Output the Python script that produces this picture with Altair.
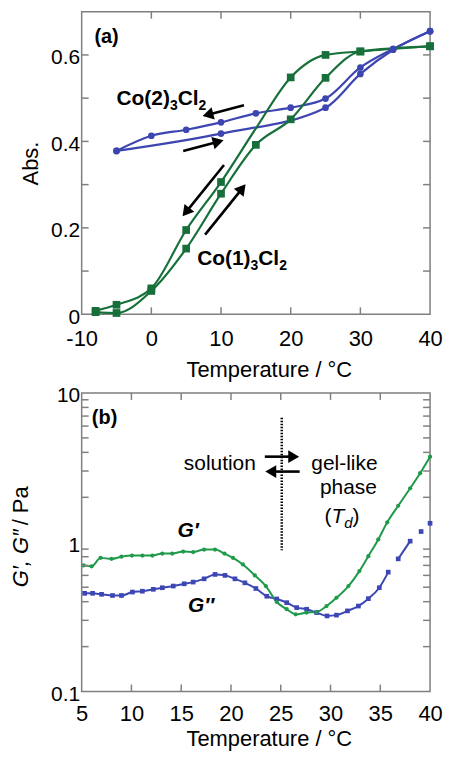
import math
import altair as alt
import pandas as pd

FONT = "Liberation Sans"

# ---------------- panel (a) data ----------------
CO1_T = [-8, -5, 0, 5, 10, 15, 20, 25, 30, 40]
CO1_COOL_A = [0.008, 0.022, 0.060, 0.195, 0.306, 0.430, 0.548, 0.600, 0.608, 0.620]
CO1_COOL_MARK = [1, 1, 1, 1, 1, 0, 1, 1, 1, 1]
CO1_HEAT_A = [0.005, 0.003, 0.054, 0.152, 0.279, 0.392, 0.451, 0.547, 0.608, 0.620]
CO1_HEAT_MARK = [1, 1, 1, 1, 1, 1, 1, 1, 1, 1]

CO2_COOL_T = [-5, 0, 5, 10, 15, 20, 25, 30, 34.7, 40]
CO2_COOL_A = [0.378, 0.413, 0.427, 0.444, 0.465, 0.478, 0.499, 0.571, 0.614, 0.655]
CO2_HEAT_T = [-5, 10, 25, 30, 34.7, 40]
CO2_HEAT_A = [0.378, 0.418, 0.478, 0.556, 0.612, 0.655]

# ---------------- panel (b) data ----------------
GP_T = [5.2, 6.0, 6.9, 8.0, 9.0, 10.05, 11.1, 12.1, 13.1, 14.1, 15.2, 16.2, 17.3, 18.4,
        19.35, 20.2, 21.2, 22.4, 23.5, 24.6, 25.6, 26.5, 27.6, 28.6, 29.6, 30.6, 31.8,
        32.9, 33.8, 34.8, 35.7, 36.8, 38.0, 39.0, 40.0]
GP_V = [0.70, 0.69, 0.786, 0.774, 0.80, 0.815, 0.815, 0.815, 0.84, 0.84, 0.866, 0.86,
        0.894, 0.894, 0.84, 0.786, 0.71, 0.60, 0.509, 0.398, 0.356, 0.329, 0.338, 0.341,
        0.374, 0.425, 0.509, 0.641, 0.807, 1.045, 1.36, 1.756, 2.30, 2.90, 3.74]
GPP_T = [5.3, 6.1, 7.0, 8.1, 9.0, 10.1, 11.1, 12.2, 13.1, 14.2, 15.3, 16.2, 17.3, 18.4,
         19.4, 20.4, 21.4, 22.5, 23.6, 24.6, 25.6, 26.6, 27.6, 28.6, 29.65, 30.6, 31.7,
         32.8, 33.8, 34.9, 35.8, 36.8, 38.0, 39.1, 40.0]
GPP_V = [0.455, 0.455, 0.448, 0.44, 0.44, 0.464, 0.47, 0.484, 0.496, 0.509, 0.527, 0.541,
         0.569, 0.609, 0.60, 0.569, 0.535, 0.49, 0.435, 0.417, 0.394, 0.365, 0.356, 0.338,
         0.321, 0.325, 0.347, 0.374, 0.419, 0.496, 0.631, 0.774, 1.017, 1.18, 1.34]
GPP_SEG = [0] * 31 + [1, 1, 2, 3]

TOP_Y_TICKS = [0.1, 0.2, 0.3, 0.4, 0.5, 0.6]
TOP_X_TICKS = [0, 10, 20, 30]
TOP_Y_LABELS = [0, 0.2, 0.4, 0.6]
TOP_X_LABELS = [-10, 0, 10, 20, 30, 40]
BOT_Y_TICKS = [0.2, 0.3, 0.4, 0.5, 0.6, 0.7, 0.8, 0.9, 2, 3, 4, 5, 6, 7, 8, 9]
BOT_X_TICKS = [10, 15, 20, 25, 30, 35]
BOT_Y_LABELS = [0.1, 1, 10]
BOT_X_LABELS = [5, 10, 15, 20, 25, 30, 35, 40]

GREEN_T = "#17703a"
BLUE_T = "#3d46b0"
GREEN_B = "#1f9a4b"
BLUE_B = "#3c46b4"
TICK = "#808080"

W = 350
H1 = 304
H2 = 300
ONE = pd.DataFrame({"z": [0]})


def frame(T, V, series, mark=None, seg=None):
    n = len(T)
    mark = mark if mark is not None else [1] * n
    seg = seg if seg is not None else [0] * n
    return pd.DataFrame({"T": T, "V": V, "series": series, "mark": mark,
                         "key": [f"{series}-{s}" for s in seg]})


def x_axis(values, lp, tp):
    return alt.Axis(values=values, ticks=False, domain=False, grid=False,
                    labelExpr="'' + datum.value", labelFontSize=22, labelPadding=lp,
                    labelFont=FONT, labelColor="black", labelFlush=False,
                    title="Temperature / °C", titleFont=FONT, titleFontSize=22,
                    titleFontWeight="normal", titleColor="black", titlePadding=tp,
                    titleX=188)


def y_axis(values, title):
    kw = dict(values=values, ticks=False, domain=False, grid=False,
              labelExpr="'' + datum.value", labelFontSize=21, labelPadding=2,
              labelFont=FONT, labelColor="black", labelFlush=False, labelOffset=3,
              labelOverlap=False)
    if title:
        kw.update(title=title, titleFont=FONT, titleFontSize=22, titleFontWeight="normal",
                  titleColor="black", titlePadding=8)
    else:
        kw.update(title=None)
    return alt.Axis(**kw)


def text_at(txt, x, y, size=21, weight="normal", style="normal", align="center",
            baseline="middle", angle=0):
    return alt.Chart(ONE).mark_text(
        text=txt, fontSize=size, fontWeight=weight, fontStyle=style, align=align,
        baseline=baseline, angle=angle, font=FONT, color="black"
    ).encode(x=alt.value(x), y=alt.value(y))


def arrow(x1, y1, x2, y2, width=2.6, size=160):
    dx, dy = x2 - x1, y2 - y1
    L = math.hypot(dx, dy)
    ux, uy = dx / L, dy / L
    ang = math.degrees(math.atan2(dx, -dy)) % 360
    shaft = alt.Chart(ONE).mark_rule(color="black", strokeWidth=width).encode(
        x=alt.value(x1), y=alt.value(y1),
        x2=alt.value(x2 - ux * 7), y2=alt.value(y2 - uy * 7))
    head = alt.Chart(ONE).mark_point(shape="triangle-up", filled=True, size=size,
                                     color="black", opacity=1, angle=ang).encode(
        x=alt.value(x2 - ux * 6), y=alt.value(y2 - uy * 6))
    return [shaft, head]


def tick_layers(X, Y, xticks, yticks, h):
    out = []
    ydf = pd.DataFrame({"V": yticks})
    xdf = pd.DataFrame({"T": xticks})
    out.append(alt.Chart(ydf).mark_rule(color=TICK, strokeWidth=1.5).encode(
        y=Y, x=alt.value(0), x2=alt.value(7)))
    out.append(alt.Chart(ydf).mark_rule(color=TICK, strokeWidth=1.5).encode(
        y=Y, x=alt.value(W - 7), x2=alt.value(W)))
    out.append(alt.Chart(xdf).mark_rule(color=TICK, strokeWidth=1.5).encode(
        x=X, y=alt.value(h - 7), y2=alt.value(h)))
    out.append(alt.Chart(xdf).mark_rule(color=TICK, strokeWidth=1.5).encode(
        x=X, y=alt.value(0), y2=alt.value(7)))
    return out


def composed(pieces, x0, y0):
    """pieces: (text, size, dy, weight, style, width_em)"""
    out = []
    x = x0
    for txt, size, dy, weight, style, wem in pieces:
        out.append(text_at(txt, x, y0 + dy, size=size, weight=weight, style=style,
                           align="left", baseline="alphabetic"))
        x += wem * size
    return out


# ---------------- panel (a) ----------------
XA = alt.X("T:Q", scale=alt.Scale(domain=[-10, 40], nice=False, zero=False),
           axis=x_axis(TOP_X_LABELS, 14, 10))
YA = alt.Y("V:Q", scale=alt.Scale(domain=[0, 0.7], nice=False, zero=False),
           axis=y_axis(TOP_Y_LABELS, "Abs."))

top_df = pd.concat([
    frame(CO2_COOL_T, CO2_COOL_A, "co2c"),
    frame(CO2_HEAT_T, CO2_HEAT_A, "co2h"),
    frame(CO1_T, CO1_COOL_A, "co1c", CO1_COOL_MARK),
    frame(CO1_T, CO1_HEAT_A, "co1h", CO1_HEAT_MARK),
], ignore_index=True)

top_color = alt.Color("series:N", legend=None, scale=alt.Scale(
    domain=["co2c", "co2h", "co1c", "co1h"], range=[BLUE_T, BLUE_T, GREEN_T, GREEN_T]))

top_lines = alt.Chart(top_df).mark_line(interpolate="monotone", strokeWidth=2.2).encode(
    x=XA, y=YA, color=top_color, detail="key:N")
top_circles = alt.Chart(top_df).transform_filter(
    "(datum.series == 'co2c' || datum.series == 'co2h') && datum.mark == 1"
).mark_point(filled=True, opacity=1, shape="circle", size=45).encode(
    x=XA, y=YA, color=top_color)
top_squares = alt.Chart(top_df).transform_filter(
    "(datum.series == 'co1c' || datum.series == 'co1h') && datum.mark == 1"
).mark_point(filled=True, opacity=1, shape="square", size=60).encode(
    x=XA, y=YA, color=top_color)

top_layers = [top_lines, top_circles, top_squares]
top_layers += tick_layers(XA, YA, TOP_X_TICKS, TOP_Y_TICKS, H1)
top_layers.append(text_at("(a)", 25, 25, size=20, weight="bold"))
top_layers += composed([("Co(2)", 21, 0, "bold", "normal", 2.555),
                        ("3", 14, 5, "bold", "normal", 0.556),
                        ("Cl", 21, 0, "bold", "normal", 1.0),
                        ("2", 14, 5, "bold", "normal", 0.556)], 35, 94)
top_layers += composed([("Co(1)", 21, 0, "bold", "normal", 2.555),
                        ("3", 14, 5, "bold", "normal", 0.556),
                        ("Cl", 21, 0, "bold", "normal", 1.0),
                        ("2", 14, 5, "bold", "normal", 0.556)], 116, 254)
top_layers += arrow(163, 94, 121, 105)
top_layers += arrow(102, 140, 143, 129)
top_layers += arrow(143, 154, 101, 206)
top_layers += arrow(124, 224, 165, 173)

top = alt.layer(*top_layers).properties(width=W, height=H1)

# ---------------- panel (b) ----------------
XB = alt.X("T:Q", scale=alt.Scale(domain=[5, 40], nice=False, zero=False),
           axis=x_axis(BOT_X_LABELS, 12, 4))
YB = alt.Y("V:Q", scale=alt.Scale(type="log", domain=[0.1, 10], nice=False),
           axis=y_axis(BOT_Y_LABELS, None))

bot_df = pd.concat([
    frame(GPP_T, GPP_V, "gpp", seg=GPP_SEG),
    frame(GP_T, GP_V, "gp"),
], ignore_index=True)
bot_color = alt.Color("series:N", legend=None, scale=alt.Scale(
    domain=["gpp", "gp"], range=[BLUE_B, GREEN_B]))

bot_lines = alt.Chart(bot_df).mark_line(interpolate="monotone", strokeWidth=2.0).encode(
    x=XB, y=YB, color=bot_color, detail="key:N")
bot_sq = alt.Chart(bot_df).transform_filter("datum.series == 'gpp'").mark_point(
    filled=True, opacity=1, shape="square", size=22).encode(
    x=XB, y=YB, color=bot_color)
bot_ci = alt.Chart(bot_df).transform_filter("datum.series == 'gp'").mark_point(
    filled=True, opacity=1, shape="circle", size=18).encode(
    x=XB, y=YB, color=bot_color)

bot_layers = [bot_lines, bot_sq, bot_ci]
bot_layers += tick_layers(XB, YB, BOT_X_TICKS, BOT_Y_TICKS, H2)
bot_layers.append(text_at("(b)", 23, 25, size=20, weight="bold"))
bot_layers.append(alt.Chart(ONE).mark_rule(color="black", strokeWidth=2.5,
                                           strokeDash=[1.5, 1.5]).encode(
    x=alt.value(201), x2=alt.value(201), y=alt.value(25), y2=alt.value(158)))
bot_layers.append(text_at("solution", 175, 71, size=21, align="right"))
bot_layers.append(text_at("gel-like", 264, 71, size=21))
bot_layers.append(text_at("phase", 268, 96, size=21))
bot_layers += composed([("(", 21, 0, "normal", "normal", 0.333),
                        ("T", 21, 0, "normal", "italic", 0.611),
                        ("d", 15, 5, "normal", "italic", 0.556),
                        (")", 21, 0, "normal", "normal", 0.333)], 244, 131)
bot_layers += arrow(184, 64, 219, 64)
bot_layers += arrow(219, 79, 184, 79)
bot_layers.append(text_at("G′", 107, 139, size=21, weight="bold", style="italic"))
bot_layers.append(text_at("G″", 120, 214, size=21, weight="bold", style="italic"))
bot_layers.append(text_at("G′, G″", -61, 137, size=22, style="italic", align="right",
                          angle=270))
bot_layers.append(text_at(" / Pa", -61, 133, size=22, align="left", angle=270))

bottom = alt.layer(*bot_layers).properties(width=W, height=H2)

chart = alt.vconcat(top, bottom, spacing=79, bounds="flush").resolve_scale(
    color="independent"
).properties(
    padding={"left": 1, "top": 0, "right": 0, "bottom": 2}
).configure(font=FONT).configure_view(stroke="#7f7f7f", strokeWidth=1.5)

chart.save("out.html", embed_options={"renderer": "svg", "actions": False})
